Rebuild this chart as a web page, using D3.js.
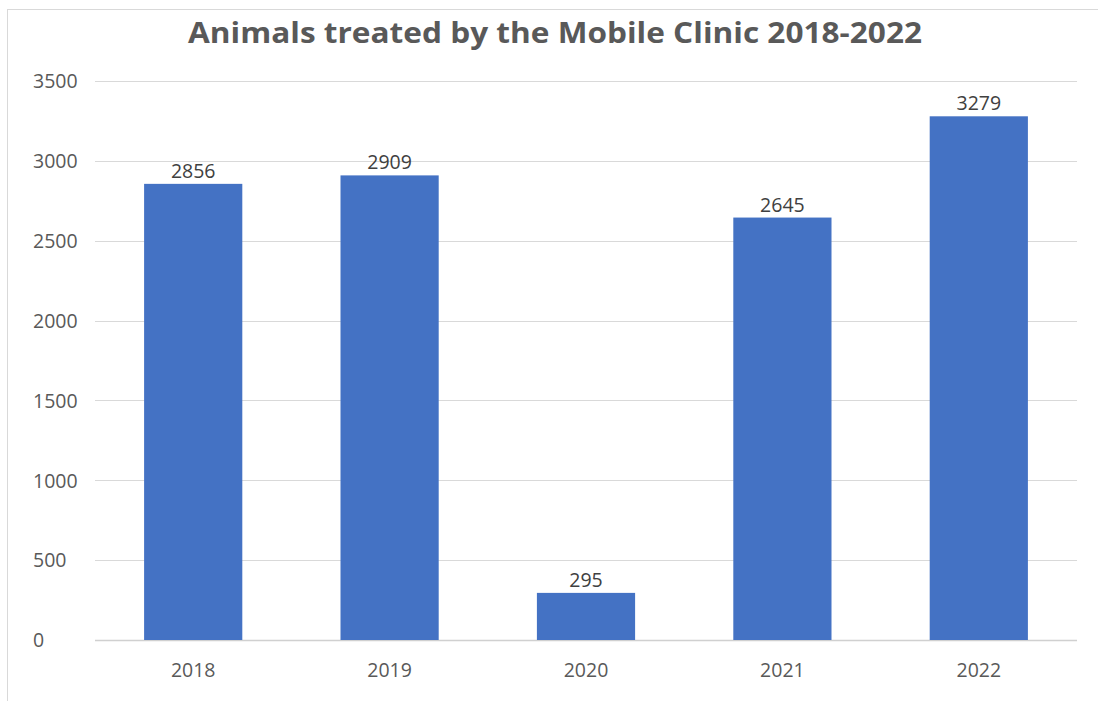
<!DOCTYPE html>
<html><head><meta charset="utf-8">
<script src="https://cdn.jsdelivr.net/npm/d3@7"></script>
<style>body{margin:0;background:#fff}svg{display:block}</style>
</head><body>
<svg id="c" width="1098" height="701"></svg>
<script>
const years = ["2018","2019","2020","2021","2022"];
const treated = [2856, 2909, 295, 2645, 3279];
const yTicks = [0,500,1000,1500,2000,2500,3000,3500];
const title = "Animals treated by the Mobile Clinic 2018-2022";

const svg = d3.select("#c");
const font = "'Open Sans', sans-serif";
// chart frame
svg.append("rect").attr("x",7.5).attr("y",9.5).attr("width",1200).attr("height",1000)
  .attr("fill","#fff").attr("stroke","#d9d9d9").attr("stroke-width",1);

const x = d3.scaleBand().domain(years).range([95,1077]).paddingInner(0.5).paddingOuter(0.25);
const y = d3.scaleLinear().domain([0,3500]).range([640,81]);

// gridlines
svg.append("g").selectAll("line").data(yTicks).join("line")
  .attr("x1",95).attr("x2",1077)
  .attr("y1",d=>Math.round(y(d))+0.5).attr("y2",d=>Math.round(y(d))+0.5)
  .attr("stroke",d=>d===0?"#d0d0d0":"#d9d9d9").attr("stroke-width",d=>d===0?1.5:1);

// y axis labels (left-aligned)
const yAxis = d3.axisLeft(y).tickValues(yTicks).tickFormat(d3.format("d")).tickSize(0).tickPadding(0);
const gy = svg.append("g").attr("transform","translate(33,0)").call(yAxis);
gy.select(".domain").remove();
gy.selectAll("text").attr("text-anchor","start").attr("x",0).attr("dy","0.35em")
  .attr("fill","#595959").style("font-family",font).style("font-size","19.5px");

// x axis labels
const xAxis = d3.axisBottom(x).tickSize(0).tickPadding(0);
const gx = svg.append("g").attr("transform","translate(0,677)").call(xAxis);
gx.select(".domain").remove();
gx.selectAll("text").attr("dy",0).attr("y",0)
  .attr("fill","#595959").style("font-family",font).style("font-size","19.5px");

// bars
svg.append("g").selectAll("rect").data(years).join("rect")
  .attr("x",d=>x(d)).attr("width",x.bandwidth())
  .attr("y",(d,i)=>y(treated[i])).attr("height",(d,i)=>y(0)-y(treated[i]))
  .attr("fill","#4472C4");

// value labels
svg.append("g").selectAll("text").data(years).join("text")
  .attr("x",d=>x(d)+x.bandwidth()/2).attr("y",(d,i)=>y(treated[i])-6)
  .attr("text-anchor","middle").attr("fill","#404040")
  .style("font-family",font).style("font-size","19.5px")
  .text((d,i)=>treated[i]);

// title
svg.append("text").attr("x",555).attr("y",43).attr("text-anchor","middle")
  .attr("textLength",734).attr("lengthAdjust","spacingAndGlyphs")
  .attr("fill","#595959").style("font-family",font).style("font-weight","bold")
  .style("font-size","29px").text(title);
</script>
</body></html>
